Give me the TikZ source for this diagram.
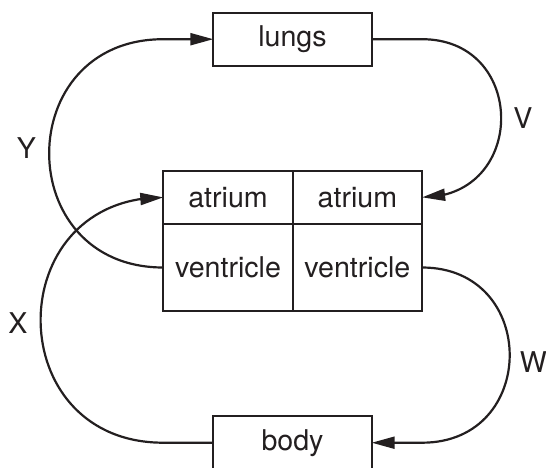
\documentclass[tikz,border=0pt]{standalone}
\usepackage{fontspec}
\setmainfont{TeX Gyre Heros}
\usepackage{tikz}
\usetikzlibrary{positioning,arrows.meta,bending}
\definecolor{ink}{RGB}{35,31,32}
\begin{document}
\begin{tikzpicture}[x=1pt, y=-1pt, line width=2.2pt, color=ink,
    every node/.style = {align=center, font=\fontsize{28.6}{34}\selectfont},
    organ/.style = {draw, inner sep=0pt, outer sep=0pt, minimum width=158.4pt, minimum height=53pt},
    cell/.style = {draw, inner sep=0pt, outer sep=0pt, minimum width=129.4pt},
    flow/.style = {-{Triangle[length=23pt, width=12pt]}},
    lbl/.style = {inner sep=0pt}]
    \useasboundingbox (0,0) rectangle (546,467);
    \node[organ] (lungs) at (292.5,39.2) {lungs};
    \node[cell, minimum height=53.3pt] (al) at (228,197.35) {atrium};
    \node[cell, minimum height=53.3pt, right=0pt of al] (ar) {atrium};
    \node[cell, minimum height=87pt, below=0pt of al] (vl) {ventricle};
    \node[cell, minimum height=87pt, below=0pt of ar] (vr) {ventricle};
    \node[organ] (body) at (292.5,442.7) {body};
    % loops round the heart
    \draw[flow] (vl.west) .. controls +(-152.2,0) and +(-152.2,0) .. (vl.west |- lungs.west)
      node[lbl, midway, left=12pt, yshift=5pt] {Y} -- (lungs.west);
    \draw[flow] (lungs.east) -- (lungs.east -| ar.east) .. controls +(105.4,0) and +(105.4,0) .. (ar.east)
      node[lbl, midway, right=11pt] {V};
    \draw[flow] (vr.east) .. controls +(116.8,0) and +(116.8,0) .. (vr.east |- body.east)
      node[lbl, midway, right=9pt, yshift=-7pt] {W} -- (body.east);
    \draw[flow] (body.west) -- (body.west -| al.west) .. controls +(-163.6,0) and +(-163.6,0) .. (al.west)
      node[lbl, midway, left=12pt, yshift=-3pt] {X};
\end{tikzpicture}
\end{document}
